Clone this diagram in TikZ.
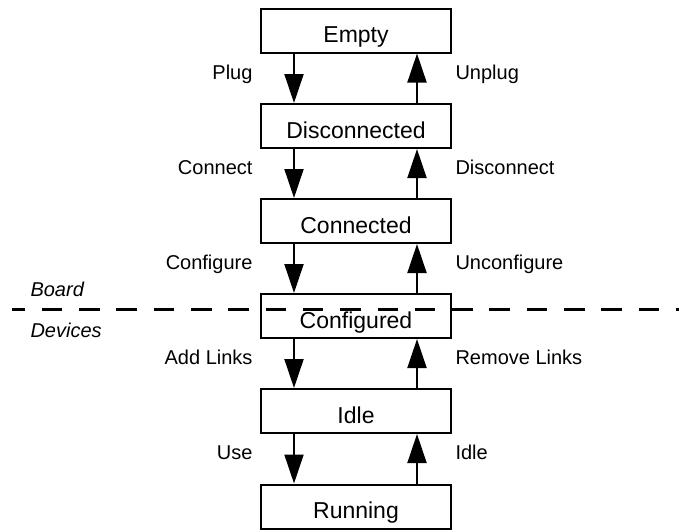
\documentclass[tikz,border=0pt]{standalone}
\usepackage{fontspec}
\setmainfont{Liberation Sans}
\usetikzlibrary{arrows.meta}
\begin{document}
\begin{tikzpicture}[x=1pt,y=-1pt,
  state/.style={draw,line width=2pt,minimum width=190pt,minimum height=44pt,inner sep=0pt,fill=white},
  boxtext/.style={anchor=base,font=\fontsize{23}{27}\selectfont},
  lbl/.style={font=\fontsize{20}{24}\selectfont},
  trans/.style={line width=2pt,-{Triangle[length=29pt,width=19pt]}},
  sep/.style={line width=3.5pt,dash pattern=on 20.5pt off 16.8pt,dash phase=7.5pt}]
\useasboundingbox (0,0) rectangle (679,531);
\foreach \n/\t/\y in {empty/Empty/30.5, disc/Disconnected/126, conn/Connected/221, conf/Configured/316, idle/Idle/411, run/Running/506.5}{
  \node[state] (\n) at (356,\y) {};
  \node[boxtext] (\n-t) at (356,\y+12) {\t};
}
\foreach \a/\b/\l/\r [count=\i] in {empty/disc/Plug/Unplug, disc/conn/Connect/Disconnect, conn/conf/Configure/Unconfigure, conf/idle/Add Links/Remove Links, idle/run/Use/Idle}{
  \draw[trans] ([xshift=-62pt]\a.south) -- ([xshift=-62pt]\b.north);
  \draw[trans] ([xshift=61pt]\b.north) -- ([xshift=61pt]\a.south);
  \node[lbl,anchor=base east] (l\i) at (256,{79+95*(\i-1)}) {\l};
  \node[lbl,anchor=base west] (r\i) at (452,{79+95*(\i-1)}) {\r};
}
\coordinate (sepL) at (12,309.5);
\coordinate (sepR) at (679,309.5);
\draw[sep] (sepL) -- (sepR);
\node[lbl,anchor=base west,font=\fontsize{20}{24}\selectfont\itshape] (board) at (27,296) {Board};
\node[lbl,anchor=base west,font=\fontsize{20}{24}\selectfont\itshape] (devices) at (27,337) {Devices};
\end{tikzpicture}
\end{document}
